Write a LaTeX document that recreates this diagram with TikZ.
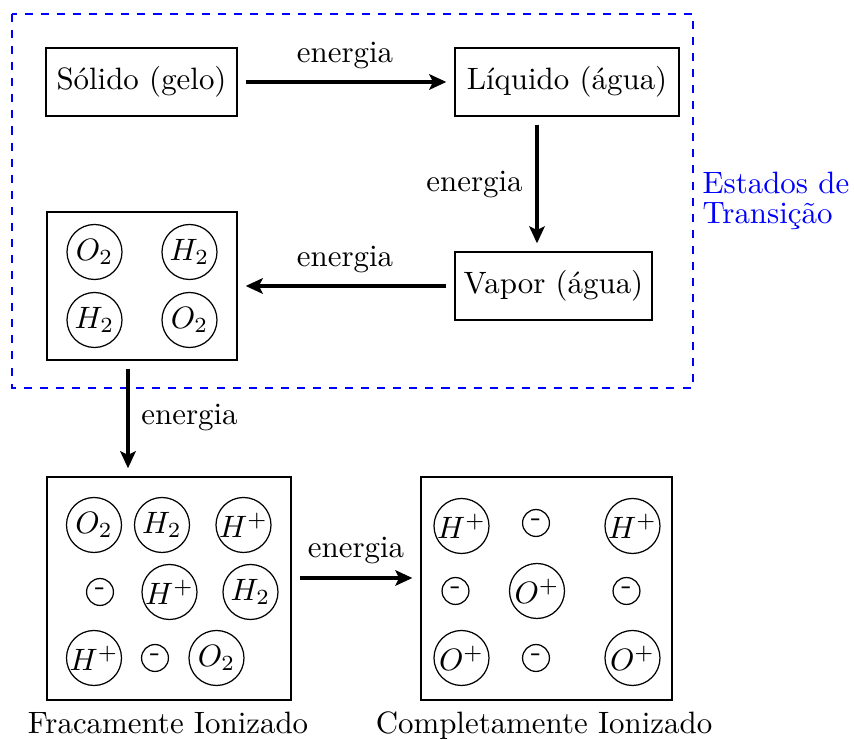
\documentclass[tikz,border=0pt]{standalone}
\usetikzlibrary{arrows.meta}
\begin{document}
\begin{tikzpicture}[x=0.3236pt,y=-0.3236pt,
  box/.style={draw, line width=0.4pt, rectangle, inner sep=0pt, minimum height=22pt},
  part/.style={draw, line width=0.4pt, circle, inner sep=0pt, minimum size=17.8pt},
  elec/.style={draw, line width=0.4pt, circle, inner sep=0pt, minimum size=8.7pt},
  arr/.style={-{Stealth[length=5.5pt,width=5pt,inset=1.2pt]}, line width=1.1pt, shorten >=2.6pt, shorten <=2.6pt},
  lbl/.style={inner sep=0pt},
  group/.style={draw=blue, dash pattern=on 2.6pt off 2.6pt, line width=0.8pt}]
\useasboundingbox (0,0) rectangle (854,740);

% dashed group
\draw[group] (12,14) rectangle (693,388);
\node[lbl, text=blue, anchor=west, align=left, font={\fontsize{10pt}{9.6pt}\selectfont}] (est) at (702,201) {Estados de\\Transição};

% top boxes
\node[box, minimum width=61.8pt] (sol) at (141.5,82) {Sólido (gelo)};
\node[box, minimum width=72.5pt] (liq) at (567,82) {Líquido (água)};
\node[box, minimum width=63.75pt] (vap) at (553.5,286) {Vapor (água)};
\node[box, minimum width=61.5pt, minimum height=47.9pt] (gas) at (142,286) {};

% gas molecules
\node[part] (g1) at (94.5,252) {$O_2$};
\node[part] (g2) at (189.5,252) {$H_2$};
\node[part] (g3) at (94.5,320) {$H_2$};
\node[part] (g4) at (189.5,320) {$O_2$};

% bottom boxes
\node[box, minimum width=79pt, minimum height=72.2pt] (fra) at (169,588.5) {};
\node[box, minimum width=81.2pt, minimum height=72.2pt] (com) at (546.5,588.5) {};

% weakly ionized
\node[part] (f1) at (94,525) {$O_2$};
\node[part] (f2) at (162,525) {$H_2$};
\node[part] (f3) at (243.5,525) {$H^+$};
\node[elec] (f4) at (100,592) {-};
\node[part] (f5) at (169.5,592) {$H^+$};
\node[part] (f6) at (250.5,592) {$H_2$};
\node[part] (f7) at (94,658) {$H^+$};
\node[elec] (f8) at (155,658) {-};
\node[part] (f9) at (216.5,658) {$O_2$};

% fully ionized
\node[part] (c1) at (461.5,526) {$H^+$};
\node[elec] (c2) at (536,523) {-};
\node[part] (c3) at (632.5,526) {$H^+$};
\node[elec] (c4) at (455.5,591) {-};
\node[part] (c5) at (537,591) {$O^+$};
\node[elec] (c6) at (626.5,591) {-};
\node[part] (c7) at (461.5,658) {$O^+$};
\node[elec] (c8) at (536,658) {-};
\node[part] (c9) at (632.5,658) {$O^+$};

\node[lbl, anchor=base] (fral) at (168,734) {Fracamente Ionizado};
\node[lbl, anchor=base] (coml) at (544,734) {Completamente Ionizado};

% arrows
\coordinate (xa) at (537,0);
\coordinate (xb) at (128,0);
\coordinate (yc) at (0,578);
\draw[arr] (sol.east) -- (liq.west);
\draw[arr] (liq.south -| xa) -- (vap.north -| xa);
\draw[arr] (vap.west) -- (gas.east);
\draw[arr] (gas.south -| xb) -- (fra.north -| xb);
\draw[arr] (fra.east |- yc) -- (com.west |- yc);

% energy labels
\node[lbl] (e1) at (345,56) {energia};
\node[lbl] (e2) at (474.5,185) {energia};
\node[lbl] (e3) at (345,260) {energia};
\node[lbl] (e4) at (189.5,418) {energia};
\node[lbl] (e5) at (356,551) {energia};
\end{tikzpicture}
\end{document}
